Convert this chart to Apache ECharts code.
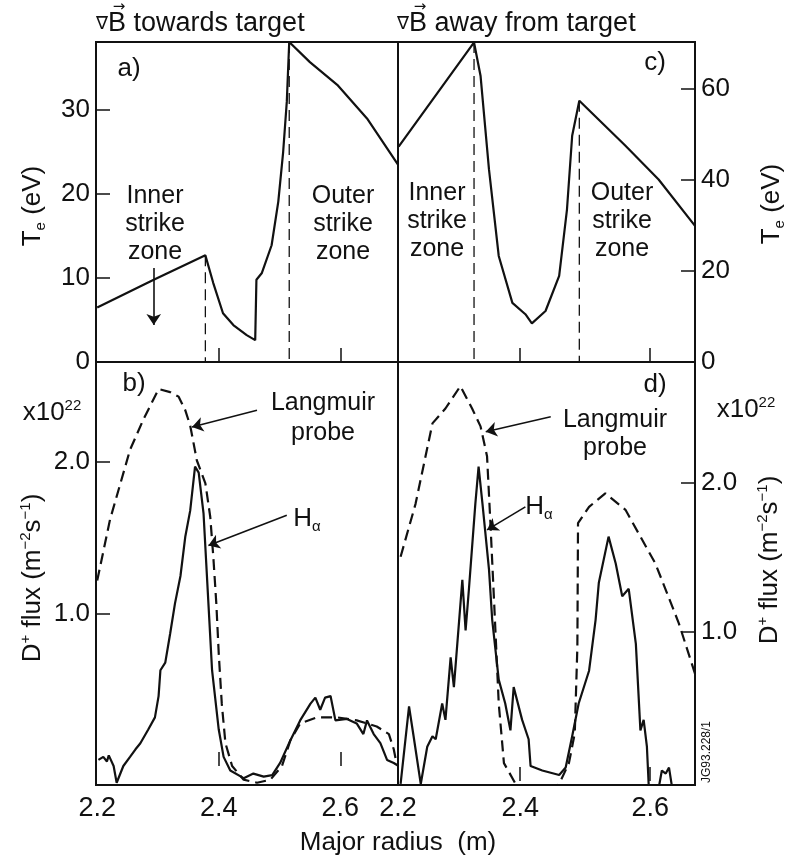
<!DOCTYPE html>
<html>
<head>
<meta charset="utf-8">
<script src="https://cdn.jsdelivr.net/npm/echarts@6/dist/echarts.min.js"></script>
<style>
html, body { margin: 0; background: #fff; }
#main { width: 789px; height: 862px; }
</style>
</head>
<body>
<div id="main"></div>
<script>
// a) Te, grad B towards target
var aR  = [2.200, 2.293, 2.378, 2.391, 2.407, 2.424, 2.446, 2.460, 2.462, 2.471, 2.487, 2.498, 2.506, 2.512, 2.516, 2.550, 2.595, 2.644, 2.695];
var aTe = [6.5, 9.8, 12.7, 9.4, 5.8, 4.4, 3.2, 2.6, 9.8, 10.6, 13.9, 19.1, 25.0, 31.0, 38.1, 35.7, 33.0, 29.0, 23.5];
// c) Te, grad B away from target
var cR  = [2.213, 2.329, 2.339, 2.352, 2.367, 2.388, 2.408, 2.418, 2.439, 2.460, 2.472, 2.480, 2.491, 2.562, 2.613, 2.669];
var cTe = [47.3, 70.2, 62.9, 42.3, 23.3, 13.0, 10.5, 8.5, 11.2, 18.9, 33.5, 49.7, 57.4, 47.5, 40.1, 29.9];

// b) D+ flux, towards target (x10^22)
var bProbeR = [2.200, 2.221, 2.254, 2.276, 2.301, 2.320, 2.334, 2.345, 2.353, 2.364, 2.378, 2.386, 2.391, 2.396, 2.400, 2.405, 2.411, 2.422, 2.441, 2.463, 2.485, 2.504, 2.518, 2.534, 2.562, 2.595, 2.627, 2.660, 2.680, 2.688, 2.693];
var bProbe  = [1.22, 1.62, 2.08, 2.28, 2.48, 2.46, 2.43, 2.34, 2.24, 2.01, 1.86, 1.64, 1.38, 1.07, 0.74, 0.41, 0.15, 0.00, -0.09, -0.11, -0.09, 0.00, 0.17, 0.28, 0.32, 0.32, 0.30, 0.26, 0.21, 0.11, 0.01];
var bHaR = [2.202, 2.210, 2.216, 2.219, 2.227, 2.232, 2.243, 2.254, 2.263, 2.271, 2.284, 2.295, 2.301, 2.304, 2.312, 2.320, 2.328, 2.337, 2.345, 2.353, 2.361, 2.367, 2.375, 2.383, 2.389, 2.400, 2.408, 2.419, 2.441, 2.457, 2.474, 2.488, 2.501, 2.518, 2.534, 2.551, 2.559, 2.567, 2.575, 2.584, 2.592, 2.611, 2.627, 2.638, 2.644, 2.655, 2.666, 2.677, 2.688, 2.696];
var bHa  = [0.04, 0.06, 0.03, 0.07, 0.00, -0.11, 0.00, 0.06, 0.11, 0.15, 0.24, 0.32, 0.46, 0.63, 0.68, 0.87, 1.07, 1.25, 1.51, 1.68, 1.97, 1.93, 1.66, 1.07, 0.63, 0.24, 0.06, -0.03, -0.08, -0.05, -0.07, -0.06, 0.02, 0.17, 0.30, 0.41, 0.45, 0.37, 0.45, 0.46, 0.30, 0.31, 0.28, 0.21, 0.30, 0.21, 0.15, 0.04, 0.02, 0.00];

// d) D+ flux, away from target (x10^22)
var dProbeR = [2.216, 2.239, 2.265, 2.285, 2.308, 2.326, 2.339, 2.349, 2.354, 2.360, 2.367, 2.375, 2.393, 2.410, 2.445, 2.460, 2.475, 2.484, 2.488, 2.489, 2.506, 2.531, 2.562, 2.608, 2.644, 2.669];
var dProbe  = [1.505, 1.86, 2.40, 2.50, 2.65, 2.50, 2.38, 2.18, 1.75, 1.19, 0.52, 0.12, -0.02, -0.08, -0.08, -0.02, 0.12, 0.32, 0.90, 1.73, 1.84, 1.93, 1.82, 1.46, 1.06, 0.72];
var dHaR = [2.216, 2.229, 2.236, 2.247, 2.257, 2.265, 2.270, 2.280, 2.285, 2.293, 2.298, 2.311, 2.316, 2.321, 2.331, 2.336, 2.342, 2.352, 2.357, 2.367, 2.377, 2.385, 2.390, 2.403, 2.413, 2.416, 2.434, 2.460, 2.470, 2.480, 2.490, 2.506, 2.516, 2.521, 2.536, 2.547, 2.557, 2.567, 2.578, 2.585, 2.590, 2.595, 2.598, 2.613, 2.618, 2.624, 2.629, 2.634];
var dHa  = [-0.02, 0.50, 0.30, -0.02, 0.23, 0.30, 0.28, 0.52, 0.41, 0.83, 0.63, 1.35, 1.01, 1.28, 1.86, 2.11, 1.86, 1.42, 1.08, 0.68, 0.52, 0.34, 0.63, 0.41, 0.28, 0.10, 0.07, 0.04, 0.09, 0.30, 0.52, 0.74, 1.08, 1.33, 1.64, 1.46, 1.24, 1.29, 0.92, 0.34, 0.41, 0.23, -0.05, -0.05, 0.07, 0.05, 0.09, -0.05];

// strike zone boundaries (dashed verticals)
var aZoneR = [2.378, 2.516], aZoneTop = [12.7, 38.1];
var cZoneR = [2.329, 2.491], cZoneTop = [70.3, 57.4];

var xTicks = [2.2, 2.4, 2.6];
var teTicksA = [0, 10, 20, 30];
var teTicksC = [0, 20, 40, 60];
var fluxTicks = [1.0, 2.0];

function zip(xs, ys) { return xs.map(function (x, i) { return [x, ys[i]]; }); }

var FONT = 'Liberation Sans, Arial, sans-serif';
var SYM = 'DejaVu Sans';
var INK = '#111';

var chart = echarts.init(document.getElementById('main'), null, { renderer: 'canvas' });

function xAxisCfg(grid, min, max, labels, labelFmt) {
  return {
    type: 'value', gridIndex: grid, min: min, max: max,
    axisLine: { show: false },
    splitLine: { show: false },
    axisTick: { show: true, inside: true, length: 14, lineStyle: { color: INK, width: 1.5 }, customValues: [2.4, 2.6] },
    axisLabel: labels ? { show: true, color: INK, fontSize: 27, fontFamily: FONT, margin: 10, customValues: labels, formatter: labelFmt } : { show: false }
  };
}
function yAxisCfg(grid, min, max, pos, ticks, labels, fmt) {
  return {
    type: 'value', gridIndex: grid, min: min, max: max, position: pos,
    axisLine: { show: false },
    splitLine: { show: false },
    axisTick: { show: true, inside: true, length: 14, lineStyle: { color: INK, width: 1.5 }, customValues: ticks },
    axisLabel: { show: true, color: INK, fontSize: 26, fontFamily: FONT, margin: 6, customValues: labels, formatter: fmt }
  };
}

function solid(data, xi, extra) {
  return Object.assign({ type: 'line', xAxisIndex: xi, yAxisIndex: xi, data: data, showSymbol: false, symbol: 'none',
    lineStyle: { color: INK, width: 2.2 }, silent: true, z: 3 }, extra || {});
}
function dashed(data, xi, w, extra) {
  return Object.assign({ type: 'line', xAxisIndex: xi, yAxisIndex: xi, data: data, showSymbol: false, symbol: 'none',
    lineStyle: { color: INK, width: w, type: [11, 6] }, silent: true, z: 2 }, extra || {});
}
function arrow(from, to) {
  return {
    silent: true, symbol: ['none', 'arrow'], symbolSize: 11, precision: 3,
    label: { show: false }, lineStyle: { color: INK, width: 1.6, type: 'solid' },
    emphasis: { disabled: true },
    data: [[{ coord: from }, { coord: to }]]
  };
}

var fmtL = function (v) { return v.toFixed(1); };
var fmtR = function (v) { return v < 2.3 ? '2.2' : v.toFixed(1); };

function txt(x, y, s, size, lh) {
  return { type: 'text', x: x, y: y, style: { text: s, fontSize: size, lineHeight: lh, fontFamily: FONT, fill: INK, align: 'center', verticalAlign: 'middle' } };
}
function richTxt(x, y, s, rich, rot) {
  return { type: 'text', x: x, y: y, rotation: rot || 0, style: { text: s, align: 'center', verticalAlign: 'middle', rich: rich } };
}
var subRich = {
  a: { fontSize: 26, fontFamily: FONT, fill: INK, lineHeight: 30, verticalAlign: 'middle' },
  s: { fontSize: 15, fontFamily: FONT, fill: INK, lineHeight: 15, verticalAlign: 'bottom' },
  p: { fontSize: 15, fontFamily: FONT, fill: INK, lineHeight: 15, verticalAlign: 'top' }
};
var titleRich = {
  g: { fontSize: 18, fontFamily: SYM, fill: INK, verticalAlign: 'middle' },
  a: { fontSize: 27, fontFamily: FONT, fill: INK, verticalAlign: 'middle' }
};

var option = {
  animation: false,
  backgroundColor: '#fff',
  grid: [
    { left: 96, top: 42, width: 302, height: 320, show: true, borderColor: INK, borderWidth: 2 },
    { left: 398, top: 42, width: 297, height: 320, show: true, borderColor: INK, borderWidth: 2 },
    { left: 96, top: 362, width: 302, height: 423, show: true, borderColor: INK, borderWidth: 2 },
    { left: 398, top: 362, width: 297, height: 423, show: true, borderColor: INK, borderWidth: 2 }
  ],
  xAxis: [
    xAxisCfg(0, 2.198, 2.695, null),
    xAxisCfg(1, 2.212, 2.669, null),
    xAxisCfg(2, 2.198, 2.695, xTicks, fmtL),
    xAxisCfg(3, 2.212, 2.669, [2.212, 2.4, 2.6], fmtR)
  ],
  yAxis: [
    yAxisCfg(0, 0, 38.1, 'left', [10, 20, 30], teTicksA, function (v) { return String(v); }),
    yAxisCfg(1, 0, 70.3, 'right', [20, 40, 60], teTicksC, function (v) { return String(v); }),
    yAxisCfg(2, -0.125, 2.658, 'left', fluxTicks, fluxTicks, fmtL),
    yAxisCfg(3, -0.027, 2.812, 'right', fluxTicks, fluxTicks, fmtL)
  ],
  series: [
    solid(zip(aR, aTe), 0, { markLine: arrow([2.293, 11.2], [2.293, 4.4]) }),
    dashed([[aZoneR[0], aZoneTop[0]], [aZoneR[0], 0]], 0, 1.3),
    dashed([[aZoneR[1], aZoneTop[1]], [aZoneR[1], 0]], 0, 1.3),
    solid(zip(cR, cTe), 1),
    dashed([[cZoneR[0], cZoneTop[0]], [cZoneR[0], 0]], 1, 1.3),
    dashed([[cZoneR[1], cZoneTop[1]], [cZoneR[1], 0]], 1, 1.3),
    dashed(zip(bProbeR, bProbe), 2, 2.2, { markLine: arrow([2.463, 2.34], [2.356, 2.23]) }),
    solid(zip(bHaR, bHa), 2, { markLine: arrow([2.512, 1.65], [2.383, 1.45]) }),
    dashed(zip(dProbeR, dProbe), 3, 2.2, { markLine: arrow([2.447, 2.445], [2.347, 2.344]) }),
    solid(zip(dHaR, dHa), 3, { markLine: arrow([2.408, 1.84], [2.349, 1.685]) })
  ],
  graphic: [
    { type: 'text', x: 96, y: 24, style: { text: '{g|\u2207}{a|B towards target}', align: 'left', verticalAlign: 'middle', rich: titleRich } },
    { type: 'text', x: 397, y: 24, style: { text: '{g|\u2207}{a|B away from target}', align: 'left', verticalAlign: 'middle', rich: titleRich } },
    { type: 'text', x: 119, y: 7, style: { text: '\u2192', fontSize: 15, fontFamily: SYM, fill: INK, align: 'center', verticalAlign: 'middle' } },
    { type: 'text', x: 420, y: 7, style: { text: '\u2192', fontSize: 15, fontFamily: SYM, fill: INK, align: 'center', verticalAlign: 'middle' } },
    txt(129, 69, 'a)', 26),
    txt(655, 63, 'c)', 26),
    txt(134, 384, 'b)', 26),
    txt(655, 385, 'd)', 26),
    txt(155, 224, 'Inner\nstrike\nzone', 25, 28),
    txt(343, 224, 'Outer\nstrike\nzone', 25, 28),
    txt(437, 221, 'Inner\nstrike\nzone', 25, 28),
    txt(622, 221, 'Outer\nstrike\nzone', 25, 28),
    txt(323, 418, 'Langmuir\nprobe', 25, 30),
    txt(615, 434, 'Langmuir\nprobe', 25, 28),
    richTxt(307, 519, '{a|H}{s|\u03b1}', subRich),
    richTxt(539, 507, '{a|H}{s|\u03b1}', subRich),
    richTxt(33, 206, '{a|T}{s|e}{a| (eV)}', subRich, Math.PI / 2),
    richTxt(772, 204, '{a|T}{s|e}{a| (eV)}', subRich, Math.PI / 2),
    richTxt(33, 578, '{a|D}{p|+}{a| flux (m}{p|\u22122}{a|s}{p|\u22121}{a|)}', subRich, Math.PI / 2),
    richTxt(770, 560, '{a|D}{p|+}{a| flux (m}{p|\u22122}{a|s}{p|\u22121}{a|)}', subRich, Math.PI / 2),
    richTxt(52, 413, '{a|x10}{p|22}', subRich),
    richTxt(746, 410, '{a|x10}{p|22}', subRich),
    { type: 'text', x: 707, y: 752, rotation: Math.PI / 2, style: { text: 'JG93.228/1', fontSize: 12, fontFamily: FONT, fill: INK, align: 'center', verticalAlign: 'middle' } },
    txt(398, 843, 'Major radius  (m)', 26)
  ]
};

chart.setOption(option);
</script>
</body>
</html>
